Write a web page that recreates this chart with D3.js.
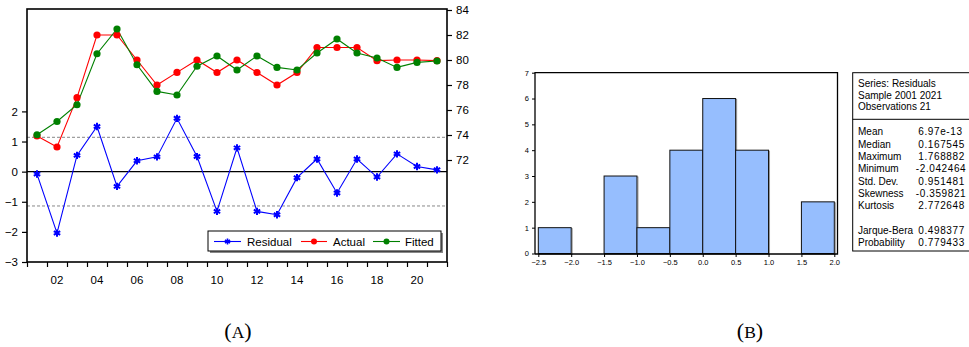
<!DOCTYPE html>
<html><head><meta charset="utf-8">
<script src="https://cdn.jsdelivr.net/npm/d3@7"></script>
<style>
html,body{margin:0;padding:0;background:#fff;}
svg{display:block;font-family:"Liberation Sans",Arial,Helvetica,sans-serif;}
</style></head>
<body>
<svg id="c" width="969" height="347"></svg>
<script>
// ---------- DATA ----------
const years = d3.range(2001, 2022);
const residual = [-0.08,-2.04,0.54,1.50,-0.49,0.36,0.49,1.77,0.50,-1.32,0.79,-1.32,-1.43,-0.20,0.42,-0.71,0.42,-0.18,0.59,0.17,0.06];
const actual   = [73.92,73.04,76.99,82.0,82.0,80.0,78.0,79.01,80.0,79.0,80.0,79.0,78.0,79.0,81.0,81.0,81.0,79.95,80.0,80.0,79.95];
const fitted   = [74.02,75.08,76.42,80.5,82.48,79.62,77.49,77.2,79.5,80.32,79.2,80.32,79.41,79.2,80.56,81.68,80.56,80.16,79.41,79.81,79.92];
const stdBand = 1.14;
const leftTicks = [-3,-2,-1,0,1,2];
const rightTicks = [72,74,76,78,80,82,84];
const xLabelYears = [2002,2004,2006,2008,2010,2012,2014,2016,2018,2020];
const legendNames = ["Residual","Actual","Fitted"];

const histEdges = [-2.5,-2.0,-1.5,-1.0,-0.5,0.0,0.5,1.0,1.5,2.0];
const histCounts = [1,0,3,1,4,6,4,0,2];
const histXTicks = [-2.5,-2.0,-1.5,-1.0,-0.5,0.0,0.5,1.0,1.5,2.0];
const histYTicks = [0,1,2,3,4,5,6,7];

const statsHeader = ["Series: Residuals","Sample 2001 2021","Observations 21"];
const statsNames = ["Mean","Median","Maximum","Minimum","Std. Dev.","Skewness","Kurtosis","","Jarque-Bera","Probability"];
const statsValues = ["6.97e-13","0.167545","1.768882","-2.042464","0.951481","-0.359821","2.772648","","0.498377","0.779433"];

const svg = d3.select("#c");
const BLUE="#0000ff", RED="#ff0000", GREEN="#008000";

// ---------- CHART A ----------
const L=27, R=447, T=9, B=262;
const x = d3.scaleLinear().domain([2000.5,2021.5]).range([L,R]);
const yL = d3.scaleLinear().domain([-3,5.4]).range([B,T]);
const yR = d3.scaleLinear().domain([72,84]).range([160,10]);
const gA = svg.append("g");

gA.append("line").attr("x1",L).attr("x2",R).attr("y1",yL(0)).attr("y2",yL(0)).attr("stroke","#000").attr("stroke-width",1.2);
[stdBand,-stdBand].forEach(v=>{
  gA.append("line").attr("x1",L).attr("x2",R).attr("y1",yL(v)).attr("y2",yL(v))
    .attr("stroke","#888").attr("stroke-width",1).attr("stroke-dasharray","3,2");
});

gA.append("rect").attr("x",L).attr("y",T).attr("width",R-L).attr("height",B-T)
  .attr("fill","none").attr("stroke","#000").attr("stroke-width",1.6);

const axL = d3.axisLeft(yL).tickValues(leftTicks).tickSize(5).tickPadding(4).tickFormat(d3.format("d"));
const gl = gA.append("g").attr("transform",`translate(${L},0)`).call(axL);
gl.select(".domain").remove();
const axR = d3.axisRight(yR).tickValues(rightTicks).tickSize(5).tickPadding(4).tickFormat(d3.format("d"));
const gr = gA.append("g").attr("transform",`translate(${R},0)`).call(axR);
gr.select(".domain").remove();
const axB = d3.axisBottom(x).tickValues(d3.range(2000.5,2022,1)).tickSize(5).tickFormat("");
const gb = gA.append("g").attr("transform",`translate(0,${B})`).call(axB);
gb.select(".domain").remove();
gA.selectAll(".xl").data(xLabelYears).enter().append("text")
  .attr("x",d=>x(d)).attr("y",B+22).attr("text-anchor","middle")
  .attr("font-size",11.5).text(d=>String(d%100).padStart(2,"0"));
[gl,gr].forEach(g=>g.selectAll("text").attr("font-size",11.5).attr("fill","#000"));
gA.selectAll(".tick line").attr("stroke","#000").attr("stroke-width",1.2);

const lineR = d3.line().x((d,i)=>x(years[i])).y(d=>yL(d));
const lineY = d3.line().x((d,i)=>x(years[i])).y(d=>yR(d));
gA.append("path").attr("d",lineY(actual)).attr("fill","none").attr("stroke",RED).attr("stroke-width",1.1);
gA.append("path").attr("d",lineY(fitted)).attr("fill","none").attr("stroke",GREEN).attr("stroke-width",1.1);
gA.append("path").attr("d",lineR(residual)).attr("fill","none").attr("stroke",BLUE).attr("stroke-width",1.1);

gA.selectAll(".ma").data(actual).enter().append("circle")
  .attr("cx",(d,i)=>x(years[i])).attr("cy",d=>yR(d)).attr("r",3.6).attr("fill",RED);
gA.selectAll(".mf").data(fitted).enter().append("circle")
  .attr("cx",(d,i)=>x(years[i])).attr("cy",d=>yR(d)).attr("r",3.6).attr("fill",GREEN);
const star = d3.symbol().type(d3.symbolAsterisk).size(38);
gA.selectAll(".mr").data(residual).enter().append("path")
  .attr("transform",(d,i)=>`translate(${x(years[i])},${yL(d)})`).attr("d",star())
  .attr("fill","none").attr("stroke",BLUE).attr("stroke-width",2);

// legend
const lg = gA.append("g");
lg.append("rect").attr("x",210).attr("y",233).attr("width",233).attr("height",20).attr("fill","#888");
lg.append("rect").attr("x",208).attr("y",231).attr("width",233).attr("height",20).attr("fill","#fff").attr("stroke","#000").attr("stroke-width",1);
const legItems = [
  {name:legendNames[0], color:BLUE, x0:214, x1:241, tx:247, m:"star"},
  {name:legendNames[1], color:RED, x0:301, x1:327, tx:333, m:"dot"},
  {name:legendNames[2], color:GREEN, x0:373, x1:400, tx:405, m:"dot"}
];
legItems.forEach(it=>{
  const cy=241.5;
  lg.append("line").attr("x1",it.x0).attr("x2",it.x1).attr("y1",cy).attr("y2",cy).attr("stroke",it.color).attr("stroke-width",1.1);
  const mx=(it.x0+it.x1)/2;
  if(it.m==="star") lg.append("path").attr("transform",`translate(${mx},${cy})`).attr("d",d3.symbol().type(d3.symbolAsterisk).size(24)()).attr("fill","none").attr("stroke",it.color).attr("stroke-width",1.6);
  else lg.append("circle").attr("cx",mx).attr("cy",cy).attr("r",3).attr("fill",it.color);
  lg.append("text").attr("x",it.tx).attr("y",cy+4).attr("font-size",11.5).text(it.name);
});

// ---------- CHART B (histogram) ----------
const hx = d3.scaleLinear().domain([-2.5,2.0]).range([538.3,834.3]);
const hy = d3.scaleLinear().domain([0,7]).range([253.5,72.7]);
const gB = svg.append("g");
const bins = histCounts.map((c,i)=>({x0:histEdges[i],x1:histEdges[i+1],c}));
const bb = bins.filter(d=>d.c>0);
gB.selectAll(".sh").data(bb).enter().append("rect")
  .attr("x",d=>hx(d.x0)+1).attr("y",d=>hy(d.c)+1).attr("width",d=>hx(d.x1)-hx(d.x0)).attr("height",d=>hy(0)-hy(d.c))
  .attr("fill","none").attr("stroke","#999").attr("stroke-width",1);
gB.selectAll(".bar").data(bb).enter().append("rect")
  .attr("x",d=>hx(d.x0)).attr("y",d=>hy(d.c)).attr("width",d=>hx(d.x1)-hx(d.x0)).attr("height",d=>hy(0)-hy(d.c))
  .attr("fill","#96befe").attr("stroke","#111").attr("stroke-width",1);
gB.append("path").attr("d",`M535,254 V72.7 H837.5 V254 H535`).attr("fill","none").attr("stroke","#000").attr("stroke-width",1.3);
const hax = d3.axisBottom(hx).tickValues(histXTicks).tickSize(3).tickPadding(3).tickFormat(d3.format(".1f"));
const ghx = gB.append("g").attr("transform","translate(0,254)").call(hax);
ghx.select(".domain").remove();
const hay = d3.axisLeft(hy).tickValues(histYTicks).tickSize(3).tickPadding(3).tickFormat(d3.format("d"));
const ghy = gB.append("g").attr("transform","translate(535,0)").call(hay);
ghy.select(".domain").remove();
[ghx,ghy].forEach(g=>{g.selectAll("text").attr("font-size",7.5).attr("fill","#000");g.selectAll("line").attr("stroke","#000");});

// stats box
const sb = svg.append("g");
sb.append("rect").attr("x",852.7).attr("y",72.7).attr("width",140).attr("height",178.3).attr("fill","#fff").attr("stroke","#000").attr("stroke-width",1);
sb.append("line").attr("x1",852.7).attr("x2",990).attr("y1",119.3).attr("y2",119.3).attr("stroke","#000").attr("stroke-width",1);
statsHeader.forEach((t,i)=>sb.append("text").attr("x",858).attr("y",87+i*11.7).attr("font-size",10).text(t));
statsNames.forEach((t,i)=>{
  if(!t) return;
  const yy = 135.3 + i*12.3;
  sb.append("text").attr("x",858).attr("y",yy).attr("font-size",10).text(t);
  const v = statsValues[i];
  sb.append("text").attr("x",v.startsWith("-")?915.8:918.3).attr("y",yy).attr("font-size",10)
    .attr("letter-spacing",0.6).text(v);
});

// captions
function caption(cx,letter){
  const t = svg.append("text").attr("x",cx).attr("y",337.5).attr("text-anchor","middle")
    .attr("font-family","'Liberation Serif','DejaVu Serif',serif").attr("font-size",22);
  t.append("tspan").text("(");
  t.append("tspan").attr("font-size",17.5).text(letter);
  t.append("tspan").text(")");
}
caption(238,"A");
caption(750,"B");
</script>
</body></html>
